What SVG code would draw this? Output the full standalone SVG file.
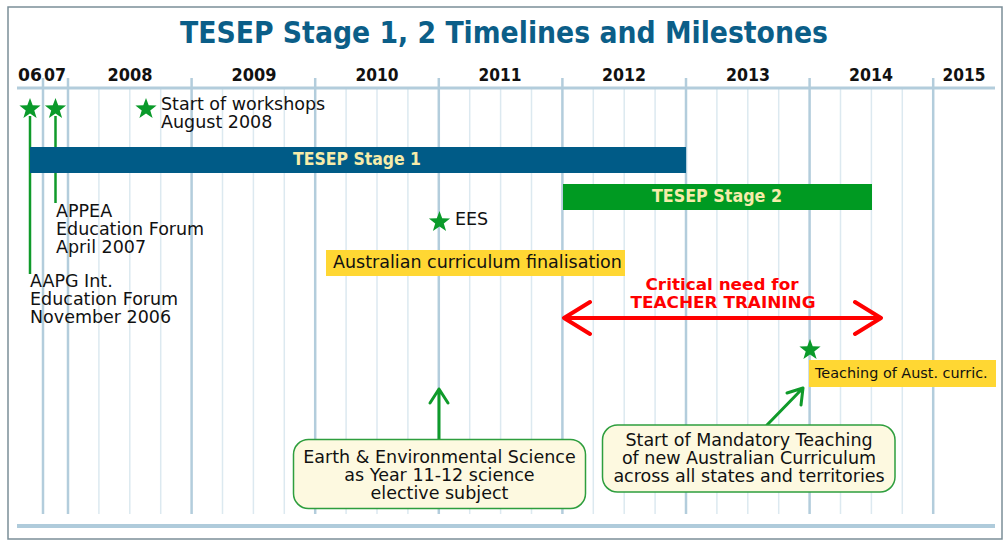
<svg xmlns="http://www.w3.org/2000/svg" width="1004" height="541" viewBox="0 0 1004 541">
<style>
.major{stroke:#b3cddc;stroke-width:2.5}
.minor{stroke:#dce9f0;stroke-width:1.5}
.yr{font-family:"DejaVu Sans",sans-serif;font-weight:bold;font-size:17px;fill:#111;text-anchor:middle}
.t{font-family:"DejaVu Sans",sans-serif;font-size:17.5px;fill:#111}
.tc{font-family:"DejaVu Sans",sans-serif;font-size:17.5px;fill:#111;text-anchor:middle}
.bar{font-family:"DejaVu Sans",sans-serif;font-weight:bold;font-size:17px;fill:#f6ecaa;text-anchor:middle}
.red{font-family:"DejaVu Sans",sans-serif;font-weight:bold;font-size:16px;fill:#ff0000;text-anchor:middle}
.gl{stroke:#0f9a2a;stroke-width:2.5;fill:none}
.ga{stroke:#0f9a2a;stroke-width:3;fill:none;stroke-linecap:round;stroke-linejoin:round}
.ra{stroke:#ff0000;stroke-width:4;fill:none;stroke-linecap:round;stroke-linejoin:round}
.callout{fill:#fdf9e0;stroke:#2e9e3e;stroke-width:1.5}
.yel{fill:#ffd733}
</style>
<defs>
<path id="star" d="M0,-11 L2.7,-3.7 L10.6,-3.4 L4.3,1.4 L6.6,9 L0,4.6 L-6.6,9 L-4.3,1.4 L-10.6,-3.4 L-2.7,-3.7 Z" fill="#0a9a2a"/>
</defs>
<rect x="0" y="0" width="1004" height="541" fill="#ffffff"/>
<rect id="frame" x="8" y="7" width="994" height="532" fill="#ffffff" stroke="#7b8e98" stroke-width="1.5"/>
<text id="title" x="504" y="43" font-family="DejaVu Sans,sans-serif" font-weight="bold" font-size="31" fill="#0b5e88" text-anchor="middle" textLength="648" lengthAdjust="spacingAndGlyphs">TESEP Stage 1, 2 Timelines and Milestones</text>
<g id="grid">
<g class="minor">
<line x1="98.9" y1="88" x2="98.9" y2="514"/><line x1="129.8" y1="88" x2="129.8" y2="514"/><line x1="160.7" y1="88" x2="160.7" y2="514"/>
<line x1="222.5" y1="88" x2="222.5" y2="514"/><line x1="253.4" y1="88" x2="253.4" y2="514"/><line x1="284.3" y1="88" x2="284.3" y2="514"/>
<line x1="346.1" y1="88" x2="346.1" y2="514"/><line x1="377" y1="88" x2="377" y2="514"/><line x1="407.9" y1="88" x2="407.9" y2="514"/>
<line x1="469.7" y1="88" x2="469.7" y2="514"/><line x1="500.6" y1="88" x2="500.6" y2="514"/><line x1="531.5" y1="88" x2="531.5" y2="514"/>
<line x1="593.3" y1="88" x2="593.3" y2="514"/><line x1="624.2" y1="88" x2="624.2" y2="514"/><line x1="655.1" y1="88" x2="655.1" y2="514"/>
<line x1="716.9" y1="88" x2="716.9" y2="514"/><line x1="747.8" y1="88" x2="747.8" y2="514"/><line x1="778.7" y1="88" x2="778.7" y2="514"/>
<line x1="840.5" y1="88" x2="840.5" y2="514"/><line x1="871.4" y1="88" x2="871.4" y2="514"/><line x1="902.3" y1="88" x2="902.3" y2="514"/>
</g>
<g class="major">
<line x1="43" y1="78" x2="43" y2="514"/><line x1="68" y1="78" x2="68" y2="514"/><line x1="191.6" y1="78" x2="191.6" y2="514"/>
<line x1="315.2" y1="78" x2="315.2" y2="514"/><line x1="438.8" y1="78" x2="438.8" y2="514"/><line x1="562.4" y1="78" x2="562.4" y2="514"/>
<line x1="686" y1="78" x2="686" y2="514"/><line x1="809.6" y1="78" x2="809.6" y2="514"/><line x1="933.2" y1="78" x2="933.2" y2="514"/>
</g>
<line x1="17" y1="88" x2="995" y2="88" stroke="#b3cddc" stroke-width="3"/>
<line x1="17" y1="526" x2="995" y2="526" stroke="#afcbdb" stroke-width="4"/>
</g>
<g id="years">
<text class="yr" x="30" y="81" textLength="24" lengthAdjust="spacingAndGlyphs">06</text>
<text class="yr" x="55" y="81" textLength="22" lengthAdjust="spacingAndGlyphs">07</text>
<text class="yr" x="130" y="81" textLength="45" lengthAdjust="spacingAndGlyphs">2008</text>
<text class="yr" x="254" y="81" textLength="45" lengthAdjust="spacingAndGlyphs">2009</text>
<text class="yr" x="377" y="81" textLength="43" lengthAdjust="spacingAndGlyphs">2010</text>
<text class="yr" x="500" y="81" textLength="43" lengthAdjust="spacingAndGlyphs">2011</text>
<text class="yr" x="624" y="81" textLength="44" lengthAdjust="spacingAndGlyphs">2012</text>
<text class="yr" x="748" y="81" textLength="44" lengthAdjust="spacingAndGlyphs">2013</text>
<text class="yr" x="871" y="81" textLength="44" lengthAdjust="spacingAndGlyphs">2014</text>
<text class="yr" x="964" y="81" textLength="43" lengthAdjust="spacingAndGlyphs">2015</text>
</g>
<g id="connectors">
<line class="gl" x1="30" y1="116" x2="30" y2="274"/>
<line class="gl" x1="55.5" y1="116" x2="55.5" y2="203"/>
<path class="ga" d="M439,440 L439,389 M430,403 L439,389 L448,403"/>
<path class="ga" d="M767,425 L803,388 M787,393 L803,388 L801,405"/>
<path class="ra" d="M564,318 L881,318 M590,302 L564,318 L590,334 M855,302 L881,318 L855,334"/>
</g>
<g id="stage1">
<rect x="30" y="147" width="656" height="26" fill="#005b87"/>
<text class="bar" x="357" y="165" textLength="128" lengthAdjust="spacingAndGlyphs">TESEP Stage 1</text>
</g>
<g id="stage2">
<rect x="563" y="184" width="309" height="26" fill="#009a22"/>
<text class="bar" x="717" y="202" textLength="130" lengthAdjust="spacingAndGlyphs">TESEP Stage 2</text>
</g>
<g id="m-aapg">
<use href="#star" x="30" y="109"/>
<text class="t" x="30" y="287">AAPG Int.</text>
<text class="t" x="30" y="305">Education Forum</text>
<text class="t" x="30" y="323">November 2006</text>
</g>
<g id="m-appea">
<use href="#star" x="55.5" y="109"/>
<text class="t" x="56" y="217">APPEA</text>
<text class="t" x="56" y="235">Education Forum</text>
<text class="t" x="56" y="253">April 2007</text>
</g>
<g id="m-workshops">
<use href="#star" x="146" y="109"/>
<text class="t" x="161" y="110">Start of workshops</text>
<text class="t" x="161" y="128">August 2008</text>
</g>
<g id="m-ees">
<use href="#star" x="439.5" y="222"/>
<text class="t" x="455" y="225">EES</text>
</g>
<g id="curriculum-final">
<rect class="yel" x="326" y="250" width="299" height="26"/>
<text class="t" x="333" y="268">Australian curriculum finalisation</text>
</g>
<g id="critical">
<text class="red" x="722" y="290" textLength="153" lengthAdjust="spacingAndGlyphs">Critical need for</text>
<text class="red" x="723" y="308" textLength="185" lengthAdjust="spacingAndGlyphs">TEACHER TRAINING</text>
</g>
<g id="m-teaching">
<use href="#star" x="810" y="350"/>
<rect class="yel" x="809" y="360" width="187" height="27"/>
<text x="815" y="378" font-family="DejaVu Sans,sans-serif" font-size="14.4" fill="#111">Teaching of Aust. curric.</text>
</g>
<g id="callout-ees">
<rect class="callout" x="293.5" y="439.5" width="292" height="69" rx="15" ry="15"/>
<text class="tc" x="439.5" y="463">Earth &amp; Environmental Science</text>
<text class="tc" x="439.5" y="481">as Year 11-12 science</text>
<text class="tc" x="439.5" y="499">elective subject</text>
</g>
<g id="callout-mandatory">
<rect class="callout" x="602.5" y="425" width="292.5" height="67" rx="15" ry="15"/>
<text class="tc" x="749" y="446">Start of Mandatory Teaching</text>
<text class="tc" x="749" y="464">of new Australian Curriculum</text>
<text class="tc" x="749" y="482">across all states and territories</text>
</g>
</svg>
